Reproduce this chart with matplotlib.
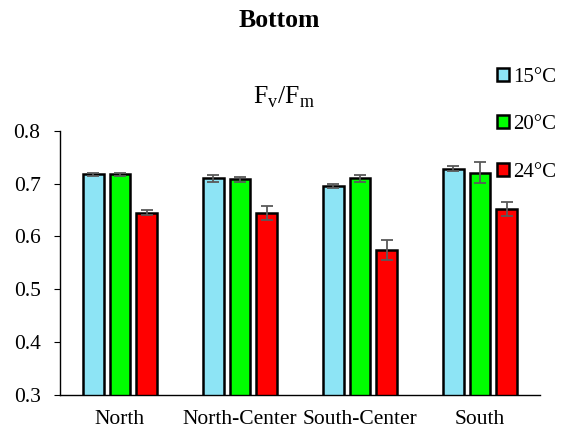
import matplotlib.pyplot as plt
import numpy as np
from matplotlib.patches import Patch

plt.rcParams['font.family'] = ['Liberation Serif', 'DejaVu Serif']

sites = ['North', 'North-Center', 'South-Center', 'South']
temps = ['15°C', '20°C', '24°C']
colors = ['#8de4f5', '#00ff00', '#ff0000']

fvfm_15 = [0.718, 0.710, 0.695, 0.728]
fvfm_20 = [0.718, 0.708, 0.710, 0.721]
fvfm_24 = [0.645, 0.645, 0.574, 0.652]
err_15 = [0.003, 0.006, 0.004, 0.005]
err_20 = [0.003, 0.005, 0.006, 0.020]
err_24 = [0.005, 0.013, 0.019, 0.014]

values = [fvfm_15, fvfm_20, fvfm_24]
errors = [err_15, err_20, err_24]

fig = plt.figure(figsize=(5.66, 4.36), dpi=100)
ax = fig.add_axes([0.106, 0.094, 0.848, 0.606])

x = np.arange(len(sites))
width = 0.17
step = 0.222
for i in range(3):
    ax.bar(x + (i - 1) * step, values[i], width, bottom=0, color=colors[i],
           edgecolor='black', linewidth=1.8, zorder=2)
    ax.errorbar(x + (i - 1) * step, values[i], yerr=errors[i], fmt='none',
                ecolor='#595959', elinewidth=1.3, capsize=4, capthick=1.3, zorder=3)

ax.set_ylim(0.3, 0.8)
ax.set_xlim(-0.5, 3.5)
ax.set_yticks([0.3, 0.4, 0.5, 0.6, 0.7, 0.8])
ax.set_yticklabels(['0.3', '0.4', '0.5', '0.6', '0.7', '0.8'])
ax.set_xticks(x)
ax.set_xticklabels(sites)
ax.tick_params(axis='x', length=0, labelsize=15.5, pad=11)
ax.tick_params(axis='y', labelsize=15.5, length=4, pad=10, direction='out')
for s in ['top', 'right']:
    ax.spines[s].set_visible(False)
ax.spines['left'].set_linewidth(1.0)
ax.spines['bottom'].set_linewidth(1.0)

fig.text(0.494, 0.952, 'Bottom', ha='center', va='center', fontsize=18.5, fontweight='bold')
fig.text(0.502, 0.778, r'F$_\mathregular{v}$/F$_\mathregular{m}$', ha='center', va='center', fontsize=18.5)

handles = [Patch(facecolor=c, edgecolor='black', linewidth=1.8) for c in colors]
fig.legend(handles, temps, loc='upper left', bbox_to_anchor=(0.878, 0.845),
           frameon=False, fontsize=15, handlelength=0.58, handleheight=0.58,
           handletextpad=0.2, labelspacing=1.38, borderaxespad=0, borderpad=0)

fig.savefig('out.png', dpi=100)
